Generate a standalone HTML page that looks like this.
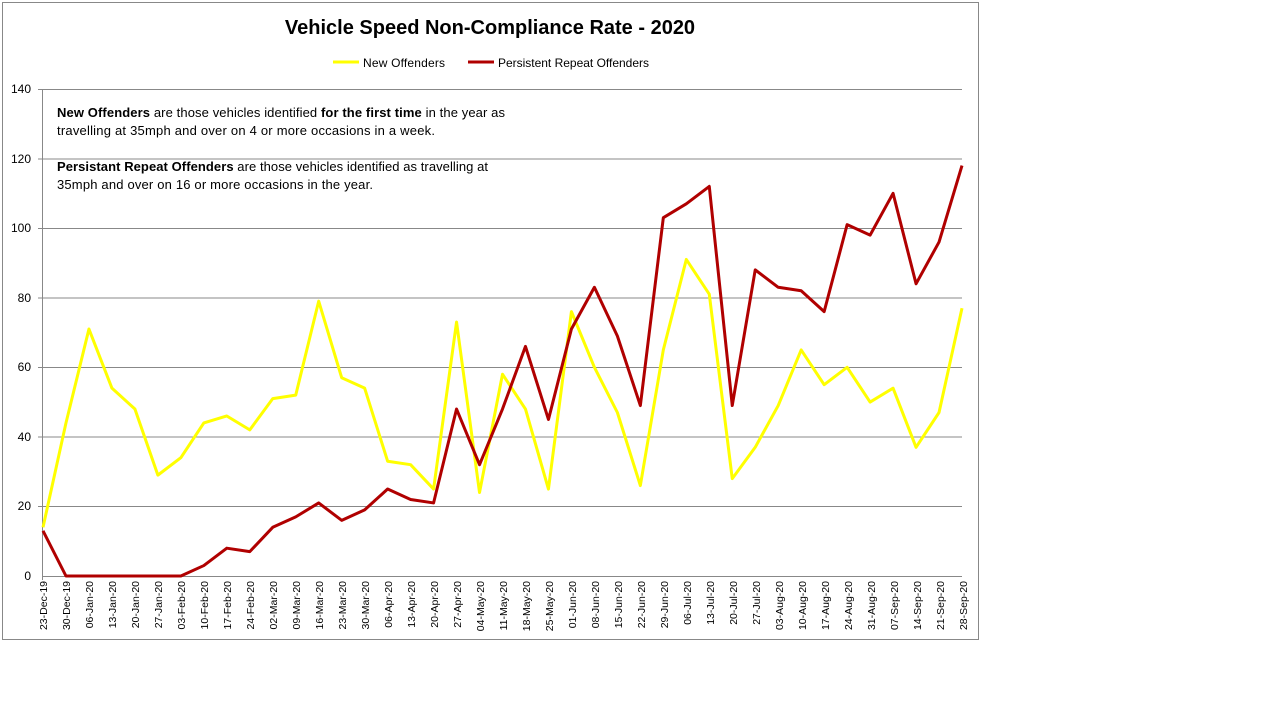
<!DOCTYPE html>
<html><head><meta charset="utf-8"><style>
body{margin:0;background:#fff;}
svg{display:block;font-family:"Liberation Sans",Tahoma,sans-serif;}
</style></head><body>
<svg width="1280" height="720" xmlns="http://www.w3.org/2000/svg">
<rect x="2.5" y="2.5" width="976" height="637" fill="#fff" stroke="#888" stroke-width="1"/>
<text x="490" y="34" font-size="20" font-weight="bold" text-anchor="middle">Vehicle Speed Non-Compliance Rate - 2020</text>
<line x1="333" y1="62" x2="359" y2="62" stroke="#ffff00" stroke-width="3"/>
<text x="363" y="67" font-size="12" textLength="82">New Offenders</text>
<line x1="468" y1="62" x2="494" y2="62" stroke="#b00000" stroke-width="3"/>
<text x="498" y="67" font-size="12" textLength="151">Persistent Repeat Offenders</text>
<g stroke="#888" stroke-width="1">
<line x1="42" y1="89.5" x2="962" y2="89.5"/>
<line x1="42" y1="159" x2="962" y2="159"/>
<line x1="42" y1="228.5" x2="962" y2="228.5"/>
<line x1="42" y1="298" x2="962" y2="298"/>
<line x1="42" y1="367.5" x2="962" y2="367.5"/>
<line x1="42" y1="437" x2="962" y2="437"/>
<line x1="42" y1="506.5" x2="962" y2="506.5"/>
<line x1="42" y1="576.5" x2="962" y2="576.5"/>
<line x1="42.5" y1="89" x2="42.5" y2="580"/>
<line x1="38" y1="89.5" x2="42" y2="89.5"/><line x1="38" y1="159" x2="42" y2="159"/><line x1="38" y1="228.5" x2="42" y2="228.5"/><line x1="38" y1="298" x2="42" y2="298"/><line x1="38" y1="367.5" x2="42" y2="367.5"/><line x1="38" y1="437" x2="42" y2="437"/><line x1="38" y1="506.5" x2="42" y2="506.5"/>
</g>
<g font-size="12" text-anchor="end">
<text x="31" y="93">140</text><text x="31" y="163">120</text><text x="31" y="232">100</text><text x="31" y="302">80</text><text x="31" y="371">60</text><text x="31" y="441">40</text><text x="31" y="510">20</text><text x="31" y="580">0</text>
</g>
<g font-size="13">
<text x="57" y="117" textLength="448"><tspan font-weight="bold">New Offenders</tspan> are those vehicles identified <tspan font-weight="bold">for the first time</tspan> in the year as</text>
<text x="57" y="135" textLength="378">travelling at 35mph and over on 4 or more occasions in a week.</text>
<text x="57" y="171" textLength="431"><tspan font-weight="bold">Persistant Repeat Offenders</tspan> are those vehicles identified as travelling at</text>
<text x="57" y="189" textLength="316">35mph and over on 16 or more occasions in the year.</text>
</g>
<g transform="translate(43,576) scale(22.975,-3.4786)" fill="none" stroke-linejoin="round">
<polyline vector-effect="non-scaling-stroke" stroke="#ffff00" stroke-width="3" points="0,14 1,44 2,71 3,54 4,48 5,29 6,34 7,44 8,46 9,42 10,51 11,52 12,79 13,57 14,54 15,33 16,32 17,25 18,73 19,24 20,58 21,48 22,25 23,76 24,60 25,47 26,26 27,65 28,91 29,81 30,28 31,37 32,49 33,65 34,55 35,60 36,50 37,54 38,37 39,47 40,77"/>
<polyline vector-effect="non-scaling-stroke" stroke="#b00000" stroke-width="3" points="0,13 1,0 2,0 3,0 4,0 5,0 6,0 7,3 8,8 9,7 10,14 11,17 12,21 13,16 14,19 15,25 16,22 17,21 18,48 19,32 20,48 21,66 22,45 23,71 24,83 25,69 26,49 27,103 28,107 29,112 30,49 31,88 32,83 33,82 34,76 35,101 36,98 37,110 38,84 39,96 40,118"/>
</g>
<g font-size="10.5" text-anchor="end">
<text transform="translate(47,581) rotate(-90)">23-Dec-19</text>
<text transform="translate(70,581) rotate(-90)">30-Dec-19</text>
<text transform="translate(93,581) rotate(-90)">06-Jan-20</text>
<text transform="translate(116,581) rotate(-90)">13-Jan-20</text>
<text transform="translate(139,581) rotate(-90)">20-Jan-20</text>
<text transform="translate(162,581) rotate(-90)">27-Jan-20</text>
<text transform="translate(185,581) rotate(-90)">03-Feb-20</text>
<text transform="translate(208,581) rotate(-90)">10-Feb-20</text>
<text transform="translate(231,581) rotate(-90)">17-Feb-20</text>
<text transform="translate(254,581) rotate(-90)">24-Feb-20</text>
<text transform="translate(277,581) rotate(-90)">02-Mar-20</text>
<text transform="translate(300,581) rotate(-90)">09-Mar-20</text>
<text transform="translate(323,581) rotate(-90)">16-Mar-20</text>
<text transform="translate(346,581) rotate(-90)">23-Mar-20</text>
<text transform="translate(369,581) rotate(-90)">30-Mar-20</text>
<text transform="translate(392,581) rotate(-90)">06-Apr-20</text>
<text transform="translate(415,581) rotate(-90)">13-Apr-20</text>
<text transform="translate(438,581) rotate(-90)">20-Apr-20</text>
<text transform="translate(461,581) rotate(-90)">27-Apr-20</text>
<text transform="translate(484,581) rotate(-90)">04-May-20</text>
<text transform="translate(507,581) rotate(-90)">11-May-20</text>
<text transform="translate(530,581) rotate(-90)">18-May-20</text>
<text transform="translate(553,581) rotate(-90)">25-May-20</text>
<text transform="translate(576,581) rotate(-90)">01-Jun-20</text>
<text transform="translate(599,581) rotate(-90)">08-Jun-20</text>
<text transform="translate(622,581) rotate(-90)">15-Jun-20</text>
<text transform="translate(645,581) rotate(-90)">22-Jun-20</text>
<text transform="translate(668,581) rotate(-90)">29-Jun-20</text>
<text transform="translate(691,581) rotate(-90)">06-Jul-20</text>
<text transform="translate(714,581) rotate(-90)">13-Jul-20</text>
<text transform="translate(737,581) rotate(-90)">20-Jul-20</text>
<text transform="translate(760,581) rotate(-90)">27-Jul-20</text>
<text transform="translate(783,581) rotate(-90)">03-Aug-20</text>
<text transform="translate(806,581) rotate(-90)">10-Aug-20</text>
<text transform="translate(829,581) rotate(-90)">17-Aug-20</text>
<text transform="translate(852,581) rotate(-90)">24-Aug-20</text>
<text transform="translate(875,581) rotate(-90)">31-Aug-20</text>
<text transform="translate(898,581) rotate(-90)">07-Sep-20</text>
<text transform="translate(921,581) rotate(-90)">14-Sep-20</text>
<text transform="translate(944,581) rotate(-90)">21-Sep-20</text>
<text transform="translate(967,581) rotate(-90)">28-Sep-20</text>
</g>
</svg>
</body></html>
